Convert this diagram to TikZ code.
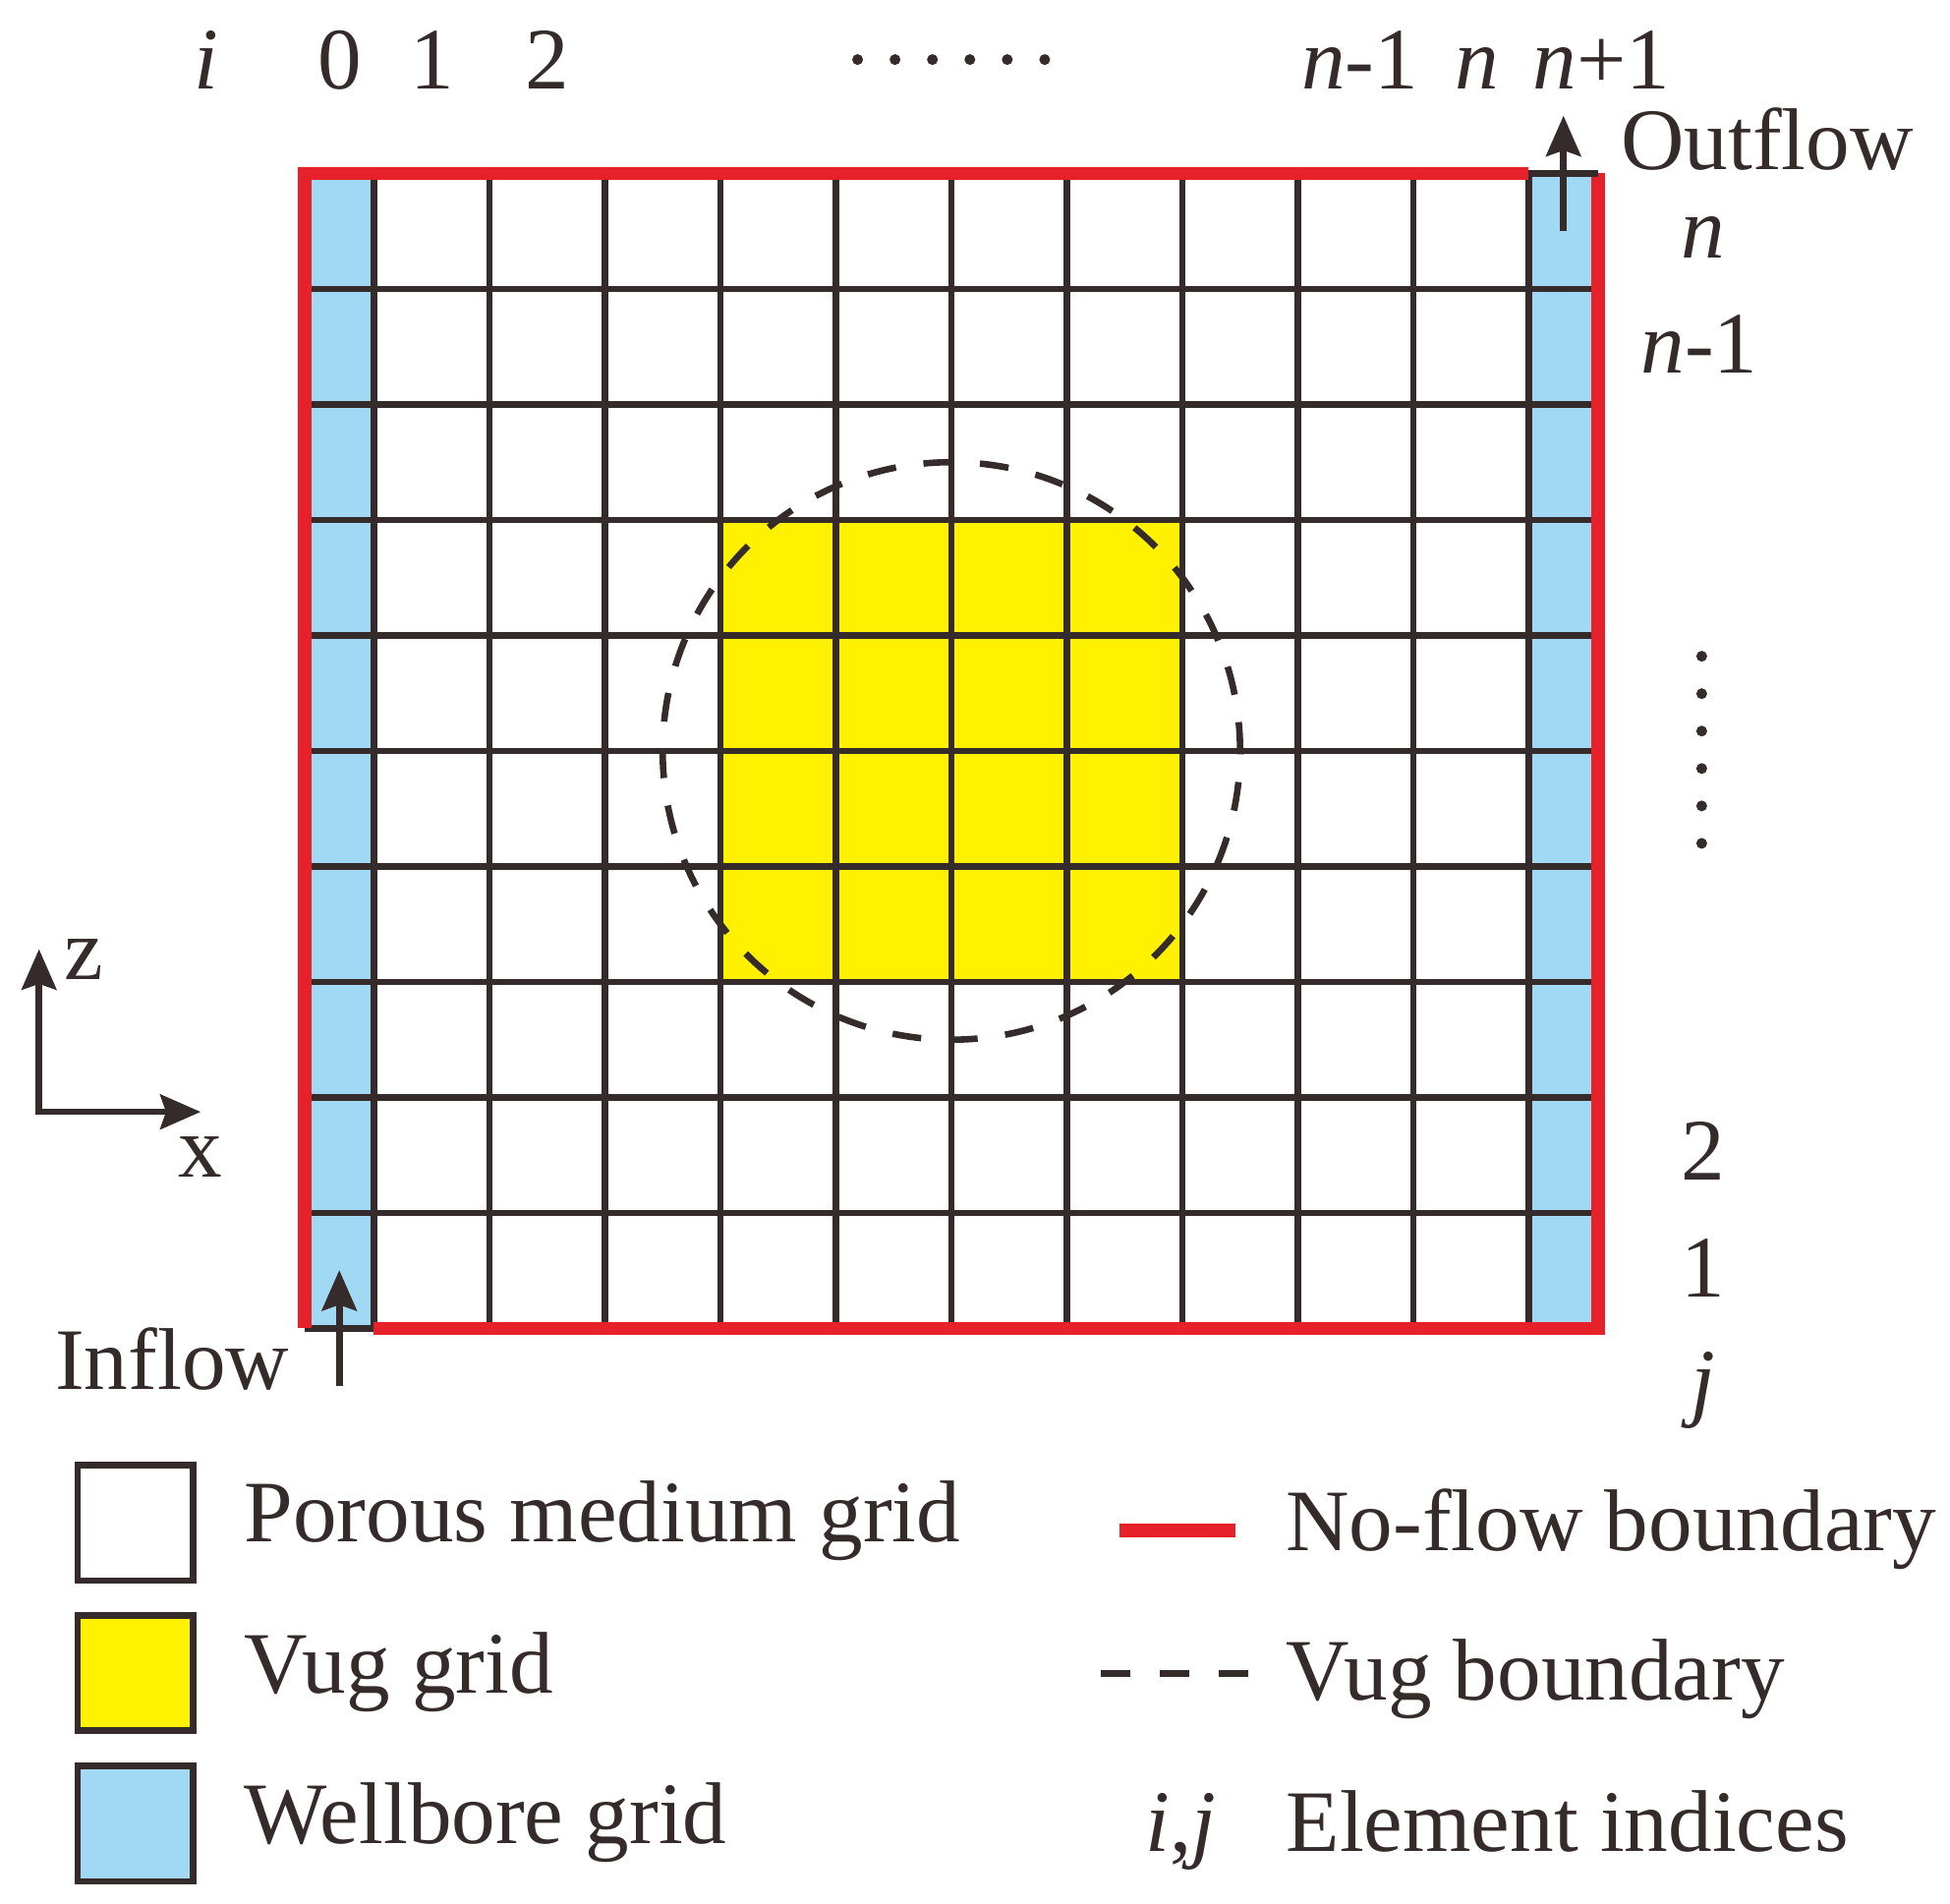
\documentclass[tikz,border=0pt]{standalone}
\usepackage{fontspec}
\setmainfont{Liberation Serif}
\usetikzlibrary{arrows.meta}

\definecolor{ink}{RGB}{53,43,42}
\definecolor{wallred}{RGB}{230,33,41}
\definecolor{wellblue}{RGB}{161,217,245}
\definecolor{vugyellow}{RGB}{255,241,0}

\tikzset{
  lbl/.style={inner sep=0pt,text=ink,font=\fontsize{21.6}{26}\selectfont,anchor=base},
  gridline/.style={draw=ink,line width=1.6pt},
  noflow/.style={draw=wallred,line width=3.2pt},
  vugline/.style={draw=ink,line width=1.6pt,dash pattern=on 0.25cm off 0.24cm},
  keybox/.style={draw=ink,line width=1.6pt,minimum width=1cm,minimum height=1cm,inner sep=0pt},
}

\begin{document}
\begin{tikzpicture}[>={Stealth[length=0.35cm,width=0.3cm,inset=0.05cm]},line width=1.6pt,ink]
\useasboundingbox (-3.238,-4.975) rectangle (13.647,11.502);

% cells
\fill[wellblue] (-0.6,0) rectangle (0,10);
\fill[wellblue] (10,0) rectangle (10.6,10);
\fill[vugyellow] (3,3) rectangle (7,7);

\foreach \k in {0,...,10} \draw[gridline] (\k,0) -- (\k,10);
\foreach \k in {0,...,10} \draw[gridline] (-0.6,\k) -- (10.6,\k);

% boundaries
\draw[noflow] (10,10) -- (-0.6,10) -- (-0.6,0);
\draw[noflow] (0,0) -- (10.6,0) -- (10.6,10);
\draw[gridline] (10,10) -- (10.6,10);
\draw[vugline] (5,5) circle (2.5);

% flow arrows
\coordinate (inS) at (-0.3,-0.50);
\coordinate (inE) at (-0.3,0.505);
\coordinate (outS) at (10.3,9.50);
\coordinate (outE) at (10.3,10.50);
\draw[->] (inS) -- (inE);
\draw[->] (outS) -- (outE);

\node[lbl,anchor=base west] (inlbl) at (-2.787,-0.532) {Inflow};
\node[lbl,anchor=base west] (outlbl) at (10.77,10.03) {Outflow};

% axes
\coordinate (org) at (-2.90,1.875);
\coordinate (zend) at (-2.90,3.284);
\coordinate (xend) at (-1.50,1.875);
\draw[<->] (zend) -- (org) -- (xend);
\node[lbl] (zlbl) at (-2.508,3.022) {z};
\node[lbl] (xlbl) at (-1.501,1.311) {x};

% column indices
\node[lbl] (ilbl) at (-1.45,10.735) {\textit{i}};
\node[lbl] (c0) at (-0.293,10.735) {0};
\node[lbl] (c1) at (0.503,10.735) {1};
\node[lbl] (c2) at (1.50,10.735) {2};
\foreach \k in {0,...,5} \fill (4.188+\k*0.324,10.986) circle (0.047);
\node[lbl] (cnm) at (8.537,10.735) {\textit{n}-1};
\node[lbl] (cn) at (9.554,10.735) {\textit{n}};
\node[lbl] (cnp) at (10.631,10.735) {\textit{n}+1};

% row indices
\node[lbl] (rn) at (11.507,9.265) {\textit{n}};
\node[lbl] (rnm) at (11.477,8.268) {\textit{n}-1};
\foreach \k in {0,...,5} \fill (11.497,5.82-\k*0.324) circle (0.047);
\node[lbl] (r2) at (11.507,1.281) {2};
\node[lbl] (r1) at (11.507,0.274) {1};
\node[lbl] (jlbl) at (11.507,-0.703) {\textit{j}};

% legend
\node[keybox,fill=white] (kporous) at (-2.065,-1.684) {};
\node[keybox,fill=vugyellow] (kvug) at (-2.065,-2.983) {};
\node[keybox,fill=wellblue] (kwell) at (-2.065,-4.287) {};
\node[lbl,anchor=base west] (tporous) at (-1.149,-1.850) {Porous medium grid};
\node[lbl,anchor=base west] (tvug) at (-1.149,-3.159) {Vug grid};
\node[lbl,anchor=base west] (twell) at (-1.149,-4.458) {Wellbore grid};

\coordinate (nfA) at (6.453,-1.750);
\coordinate (nfB) at (7.460,-1.750);
\draw[noflow] (nfA) -- (nfB);
\coordinate (vbA) at (6.292,-2.988);
\coordinate (vbB) at (7.571,-2.988);
\draw[gridline,dash pattern=on 0.26cm off 0.25cm] (vbA) -- (vbB);
\node[lbl] (ijlbl) at (6.99,-4.529) {\textit{i},\textit{j}};
\node[lbl,anchor=base west] (tnoflow) at (7.87,-1.921) {No-flow boundary};
\node[lbl,anchor=base west] (tvugb) at (7.87,-3.220) {Vug boundary};
\node[lbl,anchor=base west] (tidx) at (7.87,-4.529) {Element indices};

\end{tikzpicture}
\end{document}
